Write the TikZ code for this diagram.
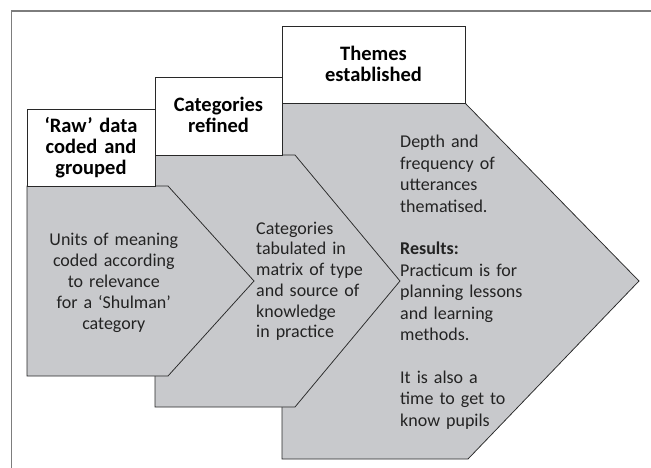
\documentclass[tikz,border=0pt]{standalone}
\usepackage{fontspec}
\setmainfont{Carlito}
\definecolor{shapegray}{RGB}{200,201,204}
\definecolor{edgegray}{RGB}{40,40,40}
\definecolor{framegray}{RGB}{125,125,125}
\definecolor{bodycol}{RGB}{35,35,35}
\begin{document}
\begin{tikzpicture}[x=1pt,y=-1pt,
  panel/.style={fill=shapegray,draw=edgegray,line width=0.75pt,line join=miter},
  headbox/.style={fill=white,draw=edgegray,line width=0.75pt},
  headtext/.style={font=\fontsize{20.5}{20.8}\selectfont\bfseries,align=center,text width=170pt,inner sep=0pt,anchor=base,text=black},
  bodyleft/.style={font=\fontsize{18}{21.2}\selectfont,align=left,text width=170pt,inner sep=0pt,anchor=base west,text=bodycol},
  bodycenter/.style={font=\fontsize{18}{21}\selectfont,align=center,text width=170pt,inner sep=0pt,anchor=base,text=bodycol}]
\useasboundingbox (0,0) rectangle (651,468);
% outer frame (top and left only)
\draw[framegray,line width=1.3pt] (11.7,468) -- (11.7,11) -- (651,11);
% Themes established
\draw[panel] (282,103) -- (465,103) -- (639,281) -- (468,459) -- (282,459) -- cycle;
\draw[headbox] (282,26) rectangle (465,103);
% Categories refined
\draw[panel] (155,155) -- (295,155) -- (400,281) -- (295,407) -- (155,407) -- cycle;
\draw[headbox] (155,77) rectangle (282,155);
% Raw data
\draw[panel] (27,186) -- (168,186) -- (254,281) -- (168,376) -- (27,376) -- cycle;
\draw[headbox] (27,109) rectangle (155,186);
% header texts
\node[headtext] (rawhead) at (91,133) {‘Raw’ data\\coded and\\grouped};
\node[headtext] (cathead) at (218.5,111.7) {Categories\\refined};
\node[headtext] (themehead) at (373.5,61) {Themes\\established};
% body texts
\node[bodycenter] (rawbody) at (113.8,245) {Units of meaning\\coded according\\to relevance\\for a ‘Shulman’\\category};
\node[bodyleft,font=\fontsize{18}{20.8}\selectfont] (catbody) at (256,234) {Categories\\tabulated in\\matrix of type\\and source of\\knowledge\\in practice};
\node[bodyleft,font=\fontsize{18}{21.4}\selectfont] (themebody) at (400,148) {Depth and\\frequency of\\utterances\\thematised.\\[21.4pt]\textbf{Results:}\\Practicum is for\\planning lessons\\and learning\\methods.\\[21.4pt]It is also a\\time to get to\\know pupils};
\end{tikzpicture}
\end{document}
